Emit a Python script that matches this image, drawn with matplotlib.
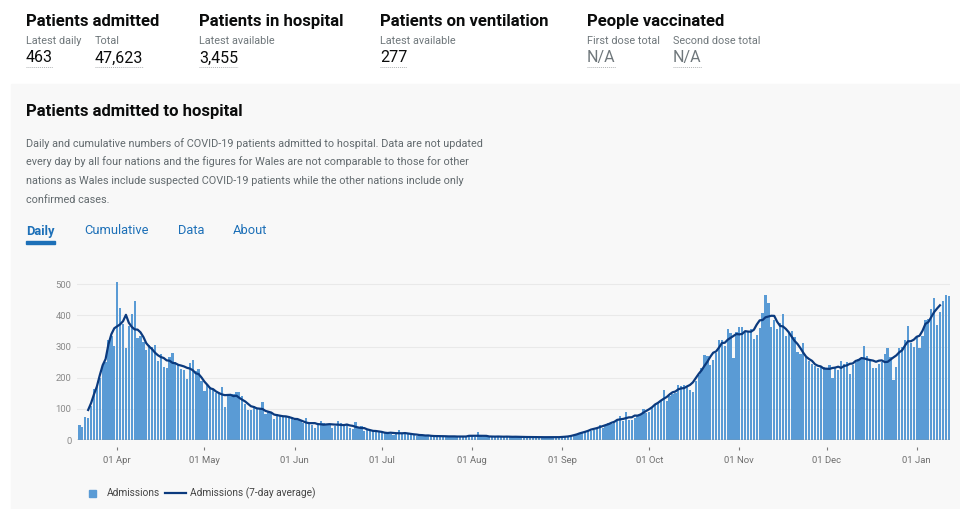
import matplotlib
matplotlib.use("Agg")
import matplotlib.pyplot as plt
import matplotlib.dates as mdates
from matplotlib.lines import Line2D
from matplotlib.patches import Rectangle
import pandas as pd

# daily admissions, 19 Mar 2020 -> 12 Jan 2021
first_day = "2020-03-19"
admissions = [
    # Mar 19-31
    47, 42, 73, 70, 108, 165, 170, 200, 240, 250, 322, 335, 302,
    # Apr
    508, 423, 372, 295, 365, 405, 446, 328, 333, 314, 290, 305, 300, 305, 253,
    275, 235, 232, 265, 278, 252, 245, 228, 225, 197, 248, 258, 222, 228, 190,
    # May
    157, 180, 170, 165, 150, 150, 170, 105, 145, 140, 148, 153, 155, 140, 115,
    97, 97, 110, 100, 100, 123, 85, 90, 88, 68, 82, 80, 78, 73, 78, 75,
    # Jun
    65, 68, 60, 55, 70, 52, 47, 40, 55, 60, 55, 48, 48, 38, 45,
    62, 55, 50, 48, 40, 35, 58, 42, 45, 28, 32, 30, 32, 30, 25,
    # Jul
    28, 25, 22, 20, 15, 22, 32, 22, 20, 22, 18, 20, 12, 20, 16,
    14, 12, 15, 12, 13, 12, 11, 13, 12, 11, 12, 10, 12, 11, 10, 12,
    # Aug
    12, 11, 26, 13, 11, 10, 12, 11, 10, 12, 11, 10, 12, 9, 10,
    12, 10, 9, 11, 10, 9, 8, 10, 9, 8, 9, 10, 8, 9, 10, 9,
    # Sep
    9, 10, 9, 12, 14, 16, 20, 25, 28, 33, 30, 33, 38, 48, 40,
    45, 55, 52, 55, 62, 78, 62, 89, 65, 63, 72, 80, 80, 100, 88,
    # Oct
    90, 105, 112, 118, 125, 160, 125, 140, 148, 150, 177, 172, 178, 175, 160,
    155, 188, 209, 230, 273, 270, 241, 257, 279, 320, 322, 302, 357, 343, 263, 348,
    # Nov
    362, 362, 348, 348, 355, 324, 338, 359, 407, 466, 441, 362, 386, 356, 375,
    404, 334, 348, 350, 330, 281, 275, 310, 265, 255, 245, 239, 230, 235, 235,
    # Dec
    230, 240, 198, 235, 225, 255, 245, 250, 213, 240, 250, 260, 262, 302, 270,
    258, 230, 230, 245, 250, 275, 295, 265, 192, 235, 295, 300, 320, 365, 310, 300,
    # Jan 1-12
    330, 295, 335, 385, 390, 420, 455, 370, 410, 445, 465, 463,
]

header_titles = ["Patients admitted", "Patients in hospital",
                 "Patients on ventilation", "People vaccinated"]
header_x = [26, 199, 380, 587]
metric_labels = ["Latest daily", "Total", "Latest available",
                 "Latest available", "First dose total", "Second dose total"]
metric_values = ["463", "47,623", "3,455", "277", "N/A", "N/A"]
metric_x = [26, 95, 199, 380, 587, 673]

card_title = "Patients admitted to hospital"
card_text = [
    "Daily and cumulative numbers of COVID-19 patients admitted to hospital. Data are not updated",
    "every day by all four nations and the figures for Wales are not comparable to those for other",
    "nations as Wales include suspected COVID-19 patients while the other nations include only",
    "confirmed cases.",
]
tabs = ["Daily", "Cumulative", "Data", "About"]
tab_x = [26, 84, 178, 233]
legend_labels = ["Admissions", "Admissions (7-day average)"]

BAR = "#5a9bd5"
LINE = "#0b3a7e"
GREY = "#6f777b"
BLUE = "#1d70b8"
INK = "#0b0c0c"

plt.rcParams["font.family"] = ["Roboto", "DejaVu Sans"]

W, H = 960, 509
fig = plt.figure(figsize=(W / 100, H / 100), dpi=100)
fig.patch.set_facecolor("white")


def fx(x):
    return x / W


def fy(y):
    return 1 - y / H


# grey card behind the chart
fig.patches.append(Rectangle((fx(11), 0), 1 - fx(11), fy(84),
                             transform=fig.transFigure, color="#f8f8f8", zorder=-5))

# headline figures
for t, x in zip(header_titles, header_x):
    fig.text(fx(x), fy(26), t, fontsize=12, fontweight="bold", color=INK, va="baseline")

value_texts = []
for lab, val, x in zip(metric_labels, metric_values, metric_x):
    fig.text(fx(x), fy(44.5), lab, fontsize=7.8, color=GREY, va="baseline")
    col = GREY if val == "N/A" else INK
    value_texts.append(fig.text(fx(x), fy(62.5), val, fontsize=11.5, color=col, va="baseline"))

# card header
fig.text(fx(26), fy(116), card_title, fontsize=12, fontweight="bold", color=INK, va="baseline")
for i, line in enumerate(card_text):
    fig.text(fx(26), fy(146.7 + i * 18.7), line, fontsize=7.8, color="#626a6e", va="baseline")

for i, (t, x) in enumerate(zip(tabs, tab_x)):
    fig.text(fx(x), fy(234.5), t, fontsize=9.3, color=BLUE,
             fontweight="bold" if i == 0 else "normal", va="baseline")
fig.patches.append(Rectangle((fx(26), fy(243.5)), fx(55) - fx(26), 2.5 / H,
                             transform=fig.transFigure, color=BLUE, zorder=2))

# chart
dates = pd.date_range(first_day, periods=len(admissions), freq="D")
avg7 = pd.Series(admissions, index=dates).rolling(7, center=True).mean()

y_top = 520
ax_top_px = 440 - y_top * 0.3114
ax = fig.add_axes([fx(77), fy(440), fx(950) - fx(77), (440 - ax_top_px) / H])
ax.patch.set_alpha(0)

ax.bar(dates, admissions, width=0.78, color=BAR, zorder=2)
ax.plot(avg7.index, avg7.values, color=LINE, lw=1.6, zorder=3)
ax.axhline(0, color="#8c8c8c", lw=1, zorder=4)

ax.set_ylim(0, y_top)
ax.set_xlim(dates[0] - pd.Timedelta(hours=20), dates[-1] + pd.Timedelta(hours=11))
ax.set_yticks(range(0, 501, 100))
ax.yaxis.grid(True, color="#e9e9e9", lw=0.8, zorder=0)
ax.set_axisbelow(True)

ax.xaxis.set_major_locator(mdates.MonthLocator(bymonthday=1))
ax.xaxis.set_major_formatter(mdates.DateFormatter("%d %b"))

for s in ax.spines.values():
    s.set_visible(False)
ax.spines["bottom"].set_position(("outward", 5))
ax.tick_params(axis="x", length=2.5, width=0.8, color="#7a7a7a", pad=4,
               labelsize=6.8, labelcolor="#6f6f6f")
ax.tick_params(axis="y", length=0, pad=4, labelsize=6.8, labelcolor="#8a8a8a")

# legend
fig.patches.append(Rectangle((fx(88.5), fy(497)), 7.5 / W, 7.5 / H,
                             transform=fig.transFigure, color=BAR, zorder=2))
fig.text(fx(107), fy(493), legend_labels[0], fontsize=7.3, color="#444444", va="center")
fig.add_artist(Line2D([fx(165), fx(186)], [fy(493), fy(493)], color=LINE, lw=1.6))
fig.text(fx(190), fy(493), legend_labels[1], fontsize=7.3, color="#444444", va="center")

# dotted underline beneath the headline numbers
fig.canvas.draw()
r = fig.canvas.get_renderer()
for t in value_texts:
    bb = t.get_window_extent(renderer=r)
    fig.add_artist(Line2D([bb.x0 / W, bb.x1 / W], [fy(66.5), fy(66.5)],
                          color="#b1b4b6", lw=0.7, ls=(0, (1, 1))))

fig.savefig("out.png", dpi=100)
